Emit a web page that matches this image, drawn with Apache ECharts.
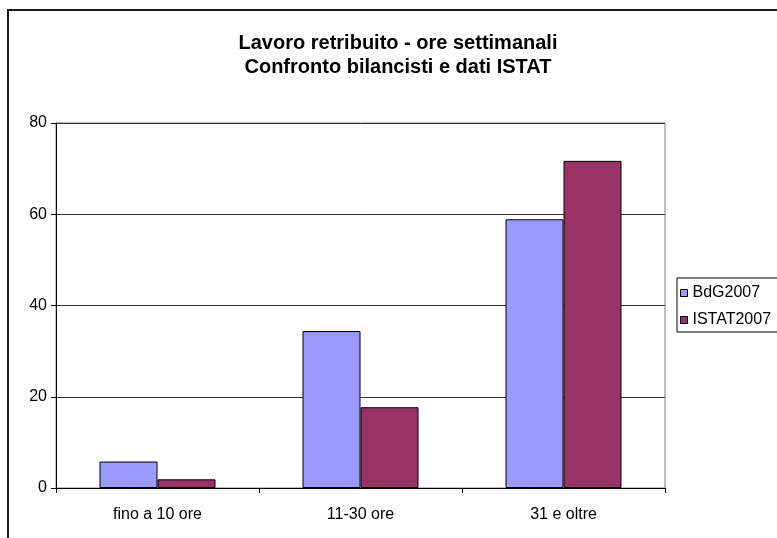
<!DOCTYPE html>
<html>
<head>
<meta charset="utf-8">
<script src="https://cdn.jsdelivr.net/npm/echarts@6/dist/echarts.min.js"></script>
<style>
html,body{margin:0;padding:0;background:#fff;}
#main{width:777px;height:538px;}
</style>
</head>
<body>
<div id="main"></div>
<script>
// dati
var categorie = ['fino a 10 ore', '11-30 ore', '31 e oltre'];
var bdg2007 = [5.8, 34.4, 58.9];
var istat2007 = [1.9, 17.7, 71.7];
var tickY = [0, 20, 40, 60, 80];

var myChart = echarts.init(document.getElementById('main'));

var option = {
    backgroundColor: '#fff',
    animation: false,
    textStyle: { fontFamily: 'Liberation Sans, Arial, sans-serif' },
    title: {
        text: 'Lavoro retribuito - ore settimanali\nConfronto bilancisti e dati ISTAT',
        left: 398,
        top: 31,
        padding: 0,
        textAlign: 'center',
        textStyle: {
            fontSize: 20,
            fontWeight: 'bold',
            color: '#000',
            lineHeight: 24,
            fontFamily: 'Liberation Sans, Arial, sans-serif'
        }
    },
    // cornice esterna
    graphic: [{
        type: 'rect',
        shape: { x: 8, y: 10, width: 800, height: 560 },
        style: { fill: 'none', stroke: '#1a1a1a', lineWidth: 2 },
        silent: true
    }],
    legend: {
        orient: 'vertical',
        left: 677,
        top: 278,
        padding: [7, 60, 4, 3],
        itemGap: 11,
        itemWidth: 7,
        itemHeight: 7,
        borderColor: '#000',
        borderWidth: 1,
        icon: 'rect',
        itemStyle: { borderColor: '#000', borderWidth: 1 },
        textStyle: { fontSize: 16, lineHeight: 16, color: '#000' },
        data: ['BdG2007', 'ISTAT2007']
    },
    grid: {
        left: 56,
        right: 112,
        top: 123,
        bottom: 50,
        containLabel: false,
        show: true,
        borderColor: '#808080',
        borderWidth: 1
    },
    xAxis: [{
        type: 'category',
        data: categorie,
        axisLine: { show: true, lineStyle: { color: '#000', width: 1 } },
        axisTick: { show: true, length: 5, inside: false, lineStyle: { color: '#000' } },
        axisLabel: { fontSize: 16, color: '#000', margin: 19 },
        splitLine: { show: false }
    }],
    yAxis: [{
        type: 'value',
        min: tickY[0],
        max: tickY[tickY.length - 1],
        interval: 20,
        axisLine: { show: true, lineStyle: { color: '#000', width: 1 } },
        axisTick: { show: true, length: 5, lineStyle: { color: '#000' } },
        axisLabel: { fontSize: 16, color: '#000', margin: 9 },
        splitLine: { show: true, lineStyle: { color: '#333', width: 1 } }
    }],
    series: [{
        name: 'BdG2007',
        type: 'bar',
        barWidth: 58,
        barGap: '0%',
        itemStyle: { color: '#9999FF', borderColor: '#000', borderWidth: 1 },
        data: bdg2007
    }, {
        name: 'ISTAT2007',
        type: 'bar',
        barWidth: 58,
        barGap: '0%',
        itemStyle: { color: '#993366', borderColor: '#000', borderWidth: 1 },
        data: istat2007
    }]
};

myChart.setOption(option);
</script>
</body>
</html>
